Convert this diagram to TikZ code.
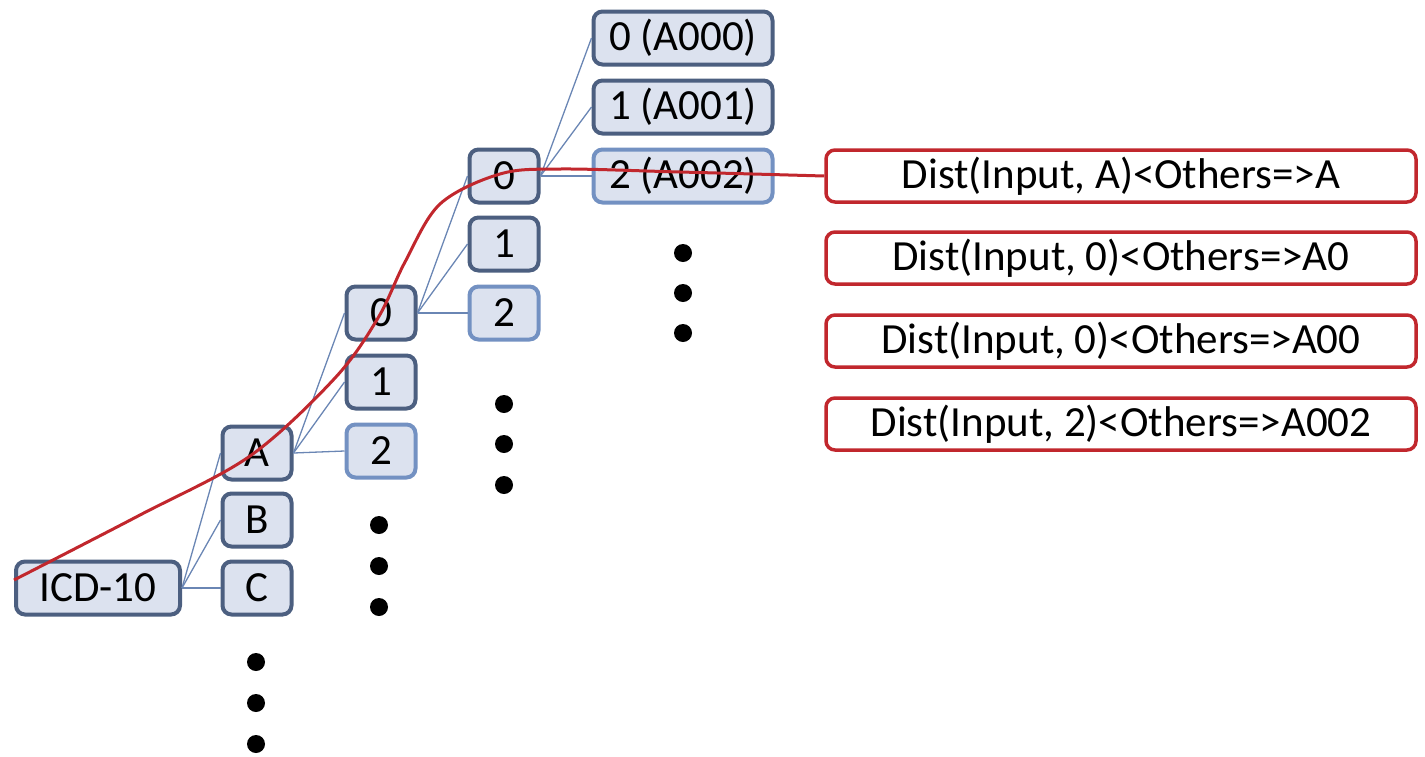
\documentclass[tikz,border=0pt]{standalone}
\usepackage{fontspec}
\setmainfont{Carlito}
\usetikzlibrary{calc}
\definecolor{boxfill}{HTML}{DCE2EF}
\definecolor{darkedge}{HTML}{4C5F80}
\definecolor{lightedge}{HTML}{7391C2}
\definecolor{linkblue}{HTML}{6A86B4}
\definecolor{pathred}{HTML}{C1272D}
\tikzset{
  code/.style={draw=darkedge, fill=boxfill, line width=4pt, rounded corners=9pt,
    minimum height=53pt, inner sep=0pt, font=\fontsize{43}{48}\selectfont},
  codelight/.style={code, draw=lightedge},
  rule/.style={draw=pathred, fill=white, line width=3.5pt, rounded corners=9pt,
    minimum width=590pt, minimum height=52pt, inner sep=0pt, font=\fontsize{43}{48}\selectfont},
  link/.style={draw=linkblue, line width=1.3pt},
  bullet/.style={fill=black},
}
\begin{document}
\begin{tikzpicture}[x=1pt,y=-1pt]
\useasboundingbox (0,0) rectangle (1425,756);
% tree nodes
\node[code, minimum width=164pt] (icd) at (98,588) {ICD-10};
\node[code, minimum width=69pt] (a) at (257,453) {A};
\node[code, minimum width=69pt] (b) at (257,520) {B};
\node[code, minimum width=69pt] (c) at (257,588) {C};
\node[code, minimum width=69pt] (a0) at (381,313) {0};
\node[code, minimum width=69pt] (a1) at (381,382) {1};
\node[codelight, minimum width=69pt] (a2) at (381,451) {2};
\node[code, minimum width=69pt] (b0) at (504,176) {0};
\node[code, minimum width=69pt] (b1) at (504,244) {1};
\node[codelight, minimum width=69pt] (b2) at (504,313) {2};
\node[code, minimum width=179pt] (c0) at (683,38) {0 (A000)};
\node[code, minimum width=179pt] (c1) at (683,107) {1 (A001)};
\node[codelight, minimum width=179pt] (c2) at (683,176) {2 (A002)};
% connectors
\draw[link] (icd.east) -- (a.west);
\draw[link] (icd.east) -- (b.west);
\draw[link] (icd.east) -- (c.west);
\draw[link] (a.east) -- (a0.west);
\draw[link] (a.east) -- (a1.west);
\draw[link] (a.east) -- (a2.west);
\draw[link] (a0.east) -- (b0.west);
\draw[link] (a0.east) -- (b1.west);
\draw[link] (a0.east) -- (b2.west);
\draw[link] (b0.east) -- (c0.west);
\draw[link] (b0.east) -- (c1.west);
\draw[link] (b0.east) -- (c2.west);
% rule boxes
\node[rule] (r1) at (1121,176) {Dist(Input, A)<Others=>A};
\node[rule] (r2) at (1121,258) {Dist(Input, 0)<Others=>A0};
\node[rule] (r3) at (1121,341) {Dist(Input, 0)<Others=>A00};
\node[rule] (r4) at (1121,424) {Dist(Input, 2)<Others=>A002};
% ellipsis dots
\foreach \y in {662,703,744} \fill[bullet] (256,\y) circle (9);
\foreach \y in {525,566,607} \fill[bullet] (379,\y) circle (9);
\foreach \y in {404,444,485} \fill[bullet] (504,\y) circle (9);
\foreach \y in {253,293,333} \fill[bullet] (683,\y) circle (9);
% red path
\draw[pathred, line width=3pt] plot[smooth, tension=0.55] coordinates {
  ($(icd.west)+(0,-8)$) (140,515) (250,456) (335,378) (378,318) (405,262)
  (440,204) (500,174) (560,169) (680,172) (r1.west)};
\end{tikzpicture}
\end{document}
